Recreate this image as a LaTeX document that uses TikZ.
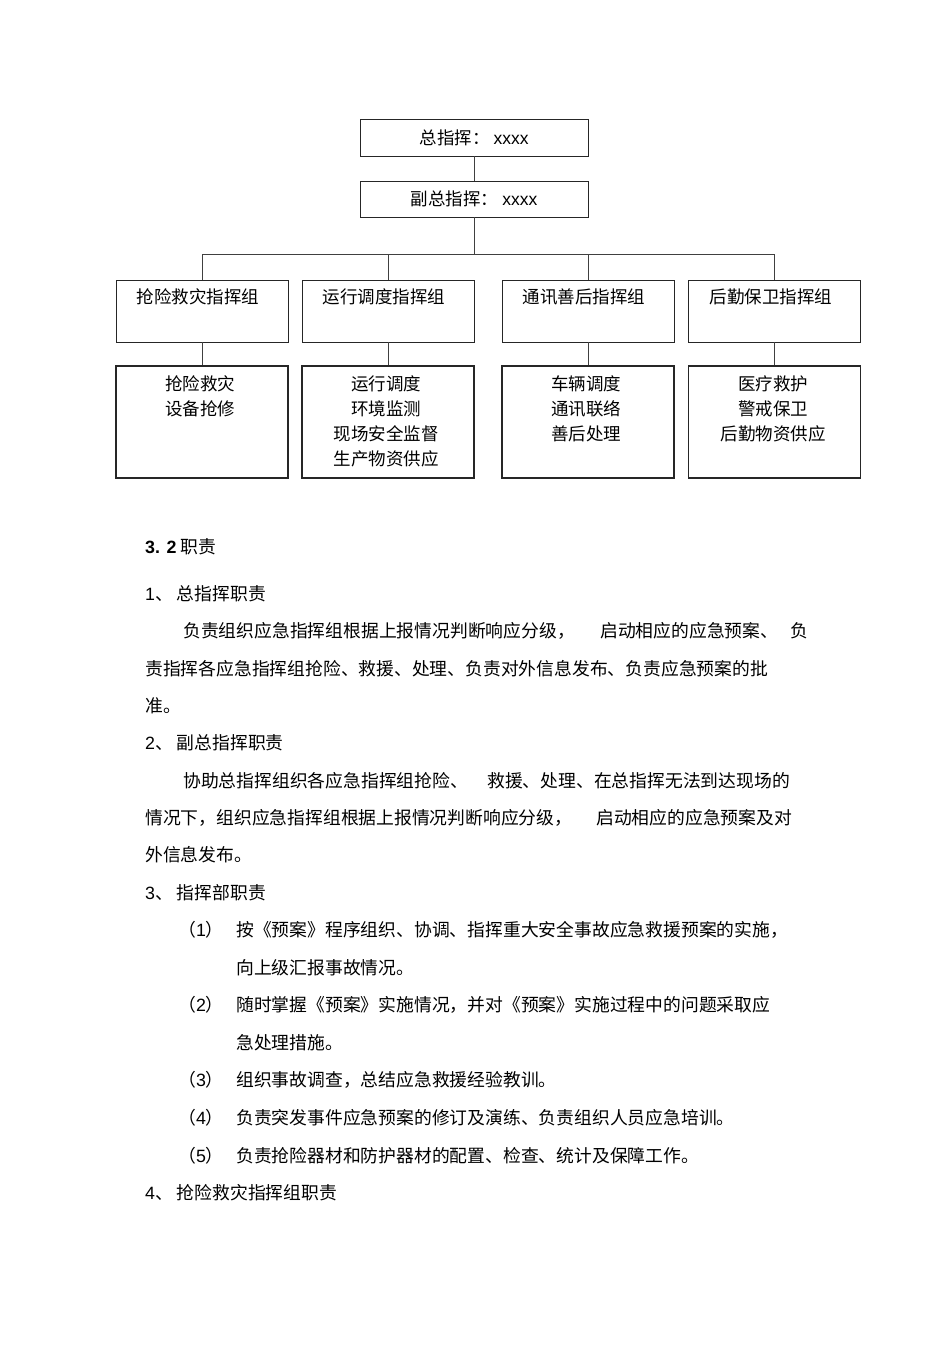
\documentclass[tikz,border=0pt]{standalone}
\usepackage{fontspec}
\setmainfont{Noto Sans CJK SC}
\newfontfamily\lat{Liberation Sans}
\begin{document}
\begin{tikzpicture}[x=1pt, y=-1pt,
    box/.style={draw=black!85, line width=0.9pt, inner sep=0pt},
    headbox/.style={box, minimum width=228pt},
    grpbox/.style={box, minimum width=172pt, minimum height=62pt},
    dutybox/.style={box, line width=1.4pt, minimum width=172pt, minimum height=112pt},
    link/.style={draw=black!75, line width=0.9pt},
    chart/.style={inner sep=0pt, font=\fontsize{17.5}{25}\selectfont},
    txt/.style={anchor=base west, inner sep=0pt, font=\fontsize{17.8}{18}\selectfont}]
	\useasboundingbox[fill=white] (0,0) rectangle (950,1345);

	% chart
	\node[headbox, minimum height=37pt, chart] (zong) at (474,137.5) {总指挥：\hspace{4pt}{\lat xxxx}};
	\node[headbox, minimum height=36pt, chart] (fu) at (474,199) {副总指挥：\hspace{4pt}{\lat xxxx}};
	\coordinate (bus) at (474,254);

	\node[grpbox] (qx) at (202,311) {};
	\node[grpbox] (yx) at (388,311) {};
	\node[grpbox] (tx) at (588,311) {};
	\node[grpbox] (hq) at (774.5,311) {};
	\node[chart] (qxt) at (198,297) {抢险救灾指挥组};
	\node[chart] (yxt) at (384,297) {运行调度指挥组};
	\node[chart] (txt) at (584,297) {通讯善后指挥组};
	\node[chart] (hqt) at (771,297) {后勤保卫指挥组};

	\node[dutybox] (qxd) at (202,422) {};
	\node[dutybox] (yxd) at (388,422) {};
	\node[dutybox] (txd) at (588,422) {};
	\node[dutybox] (hqd) at (774.5,422) {};
	\node[chart, anchor=north, align=center] (qxl) at (200,375.5) {抢险救灾\\设备抢修};
	\node[chart, anchor=north, align=center] (yxl) at (386,375.5) {运行调度\\环境监测\\现场安全监督\\生产物资供应};
	\node[chart, anchor=north, align=center] (txl) at (586,375.5) {车辆调度\\通讯联络\\善后处理};
	\node[chart, anchor=north, align=center] (hql) at (773,375.5) {医疗救护\\警戒保卫\\后勤物资供应};

	\draw[link] (zong) -- (fu);
	\draw[link] (fu) -- (bus);
	\draw[link] (qx.north) -- (qx.north |- bus) -- (hq.north |- bus) -- (hq.north);
	\draw[link] (yx.north) -- (yx.north |- bus);
	\draw[link] (tx.north) -- (tx.north |- bus);
	\draw[link] (qx) -- (qxd);
	\draw[link] (yx) -- (yxd);
	\draw[link] (tx) -- (txd);
	\draw[link] (hq) -- (hqd);

	% text
	\node[txt] (sec) at (145,553) {{\lat\bfseries 3. 2} 职责};
	\node[txt] (h1) at (145,600) {{\lat 1}、\hspace{4pt}总指挥职责};
	\node[txt] (p1a) at (183,637) {负责组织应急指挥组根据上报情况判断响应分级，};
	\node[txt] (p1b) at (600,637) {启动相应的应急预案、};
	\node[txt] (p1c) at (790,637) {负};
	\node[txt] (p1d) at (145,675) {责指挥各应急指挥组抢险、救援、处理、负责对外信息发布、负责应急预案的批};
	\node[txt] (p1e) at (145,712) {准。};
	\node[txt] (h2) at (145,749) {{\lat 2}、\hspace{4pt}副总指挥职责};
	\node[txt] (p2a) at (183,787) {协助总指挥组织各应急指挥组抢险、};
	\node[txt] (p2b) at (487,787) {救援、处理、在总指挥无法到达现场的};
	\node[txt] (p2c) at (145,824) {情况下，组织应急指挥组根据上报情况判断响应分级，};
	\node[txt] (p2d) at (596,824) {启动相应的应急预案及对};
	\node[txt] (p2e) at (145,861) {外信息发布。};
	\node[txt] (h3) at (145,899) {{\lat 3}、\hspace{4pt}指挥部职责};
	\node[txt] (n1) at (178,936) {（{\lat 1}）};
	\node[txt] (i1a) at (236,936) {按《预案》程序组织、协调、指挥重大安全事故应急救援预案的实施，};
	\node[txt] (i1b) at (236,974) {向上级汇报事故情况。};
	\node[txt] (n2) at (178,1011) {（{\lat 2}）};
	\node[txt] (i2a) at (236,1011) {随时掌握《预案》实施情况，并对《预案》实施过程中的问题采取应};
	\node[txt] (i2b) at (236,1049) {急处理措施。};
	\node[txt] (n3) at (178,1086) {（{\lat 3}）};
	\node[txt] (i3) at (236,1086) {组织事故调查，总结应急救援经验教训。};
	\node[txt] (n4) at (178,1124) {（{\lat 4}）};
	\node[txt] (i4) at (236,1124) {负责突发事件应急预案的修订及演练、负责组织人员应急培训。};
	\node[txt] (n5) at (178,1162) {（{\lat 5}）};
	\node[txt] (i5) at (236,1162) {负责抢险器材和防护器材的配置、检查、统计及保障工作。};
	\node[txt] (h4) at (145,1199) {{\lat 4}、\hspace{4pt}抢险救灾指挥组职责};
\end{tikzpicture}
\end{document}
